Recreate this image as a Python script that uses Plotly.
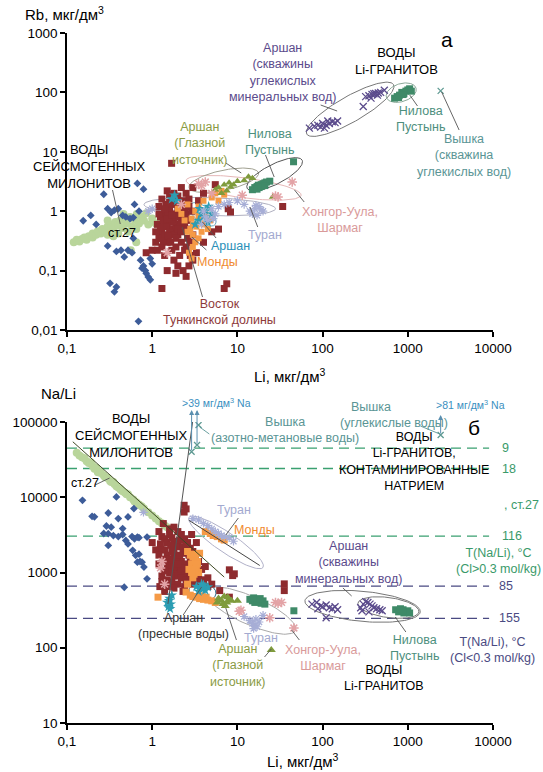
import numpy as np
import plotly.graph_objects as go

# ---------------- DATA ----------------
tick_vals_x = [0.1, 1, 10, 100, 1000, 10000]
tick_text_x = ["0,1", "1", "10", "100", "1000", "10000"]
tick_vals_rb = [0.01, 0.1, 1, 10, 100, 1000]
tick_text_rb = ["0,01", "0,1", "1", "10", "100", "1000"]
tick_vals_nali = [10, 100, 1000, 10000, 100000]
tick_text_nali = ["10", "100", "1000", "10000", "100000"]

# Panel a: (Li, Rb)
a_milonite = [(0.155,0.69),(0.19,0.85),(0.22,0.6),(0.27,1.93),(0.3,1.1),(0.33,0.95),(0.36,1.04),(0.4,1.1),
              (0.45,0.85),(0.49,0.8),(0.55,0.75),(0.6,0.78),(0.67,2.93),(0.79,2.35),(0.62,1.3),(0.7,1.0),
              (0.3,0.26),(0.38,0.21),(0.43,0.22),(0.47,0.17),(0.52,0.22),(0.58,0.2),(0.73,0.15),(0.79,0.12),
              (0.83,0.1),(0.9,0.078),(0.85,0.09),(0.95,0.07),(0.76,0.11),(0.32,0.061),(0.38,0.053),
              (0.36,0.044),(0.69,0.014),(1.0,0.13),(0.95,0.16),(0.6,0.35)]
a_st27 = [(0.12,0.3),(0.13,0.33),(0.14,0.31),(0.15,0.34),(0.16,0.36),(0.17,0.33),(0.18,0.38),(0.2,0.36),
          (0.2,0.42),(0.22,0.4),(0.23,0.46),(0.25,0.42),(0.26,0.5),(0.28,0.46),(0.3,0.55),(0.3,0.4),
          (0.33,0.6),(0.35,0.5),(0.37,0.66),(0.4,0.58),(0.42,0.7),(0.45,0.52),(0.48,0.75),(0.5,0.62),
          (0.55,0.8),(0.58,0.55),(0.62,0.72),(0.66,0.9),(0.7,0.62),(0.75,0.8),(0.8,0.7),(0.85,0.92),
          (0.9,0.6),(1.0,0.75),(1.1,0.62),(1.25,0.7),(0.4,0.42),(0.52,0.45),(0.35,0.38),(0.65,0.5),
          (0.3,0.7),(0.46,0.9),(0.56,0.22),(0.65,0.3),(1.3,0.55)]
a_east = [(1.69,6.4),(1.3,1.6),(1.5,2.2),(1.6,1.9),(1.8,2.0),(2.0,1.8),(2.2,2.5),(2.5,2.0),(2.7,1.6),(3.0,2.5),
          (1.2,1.2),(1.4,0.9),(1.6,1.1),(1.8,0.9),(2.0,0.8),(2.2,0.7),(2.4,1.0),(1.5,0.6),(1.7,0.5),(1.9,0.55),
          (2.1,0.6),(2.4,0.5),(1.3,0.45),(1.2,0.35),(1.1,0.3),(1.3,0.25),(1.5,0.3),(1.7,0.22),(1.9,0.25),
          (2.2,0.3),(2.5,0.25),(1.8,0.15),(2.0,0.12),(2.3,0.1),(1.5,0.1),(1.3,0.05),(2.5,0.08),(2.8,0.18),
          (3.0,0.15),(4.0,0.3),(7.5,0.06),(7.0,0.05),(5.0,0.45),(1.0,0.22),(0.85,0.2),(3.5,1.5),(4.0,2.0),
          (1.6,0.75),(2.0,0.4),(2.6,0.35),(1.4,0.18),(2.1,0.18),(1.15,0.6),(1.9,1.3),(5.5,2.8),(6.0,0.5),
          (7.8,1.1),(8.3,0.97),(34,1.2),(1.25,0.8),(1.75,1.4),(2.3,1.5),(1.45,1.3),(2.6,0.7),(2.0,1.0),
          (1.35,0.7),(1.6,0.95),(1.8,0.7),(2.1,0.9),(2.3,0.8),(1.7,0.65),(1.9,0.8),(2.2,1.1),(1.55,0.85),
          (1.45,0.55),(2.4,0.6),(1.3,0.35),(1.4,0.4),(1.6,0.45),(1.8,0.4),(2.0,0.5),(2.2,0.45),(1.25,0.55),
          (1.5,0.75),(1.7,0.85),(2.5,0.9),(2.7,1.2),(2.9,1.0),(1.2,0.9),(1.4,1.1),(1.6,1.4),(2.1,1.4),
          (2.4,1.3),(1.1,0.45),(1.35,0.32),(1.55,0.38),(1.15,0.22),(1.65,0.3),(2.6,0.5),(3.0,0.4),(2.8,0.3),
          (1.9,0.35),(2.4,0.22),(2.7,0.12),(1.9,0.09),(3.3,0.2)]
a_mondy = [(2.8,0.5),(3.0,0.4),(3.2,0.3),(3.5,0.35),(3.0,0.6),(3.5,0.8),(4.0,0.6),(4.5,0.5),(3.0,0.25),
           (2.7,0.2),(2.9,0.16),(3.5,1.2),(4.0,1.5),(5.0,1.7),(5.5,2.0),(6.0,1.5),(2.6,1.3),(3.2,1.0),
           (4.2,0.9),(3.8,0.45),(2.2,0.9),(2.0,1.1),(2.4,0.7),(6.5,2.2),(7.0,1.9),(3.3,0.55),(3.6,0.65),
           (2.6,0.45),(2.9,0.75),(4.8,0.7)]
a_arshan = [(1.83,1.86),(1.7,1.6),(1.95,1.5),(3.5,0.7),(4.0,0.8),(4.5,0.65),(3.8,0.9),(4.2,1.0),(5.0,0.9),
            (3.2,0.6),(3.6,1.1),(4.6,1.2)]
a_turan = [(0.9,1.0),(1.0,1.1),(4.0,1.0),(5.0,1.1),(5.5,0.9),(6.0,1.2),(7.0,1.3),(8.0,1.4),(10,1.5),(12,1.3),
           (14,1.0),(16,1.1),(18,1.2),(20,1.0),(15,0.9),(17,0.85),(19,1.05),(4.5,0.7),(3.8,0.6),(4.2,0.8),
           (5.2,0.75),(16.5,1.25)]
a_glaznoy = [(6.0,2.5),(7.0,2.8),(8.0,3.0),(8.3,2.56),(9.0,2.8),(10,3.2),(12,3.3),(13.5,3.8),(15,3.6),
             (7.5,2.2),(6.5,2.0),(26,1.74),(5.5,2.3)]
a_nilova = [(15,2.3),(16,2.5),(17,2.6),(17.6,2.74),(18,2.5),(19,2.8),(20,2.9),(21,3.0),(22,3.1),(24,3.2),
            (17,2.35),(19,2.6),(21,2.7),(45.6,6.8),(700,80),(750,85),(800,90),(850,100),(900,95),(950,105),
            (1000,110),(1050,115),(780,82),(880,92),(1100,105)]
a_hongor = [(3.5,2.9),(3.8,2.7),(4.2,3.1),(11.4,1.86),(28,1.8),(30,1.74),(44,3.1),(5.0,2.0),(1.5,0.2),(2.2,1.3)]
a_wells = [(70,25),(80,27),(88,28),(95,26),(100,30),(110,28),(120,30),(130,32),(140,31),(150,33),(105,25),
           (115,33),(300,58),(320,85),(350,88),(380,92),(400,95),(420,96),(450,98),(480,100),(530,109),
           (370,80),(440,90)]
a_vyshka = [(2430,106)]

# Panel b: (Li, Na/Li)
b_milonite = [(0.152,9100),(0.197,5580),(0.21,5500),(0.305,6180),(0.38,10100),(0.29,4150),(0.33,4000),
              (0.40,5200),(0.45,3830),(0.52,5470),(0.305,3280),(0.35,3100),(0.40,3000),(0.305,2290),
              (0.49,2670),(0.52,2400),(0.61,7070),(0.59,1970),(0.64,1690),(0.70,1750),(0.76,1370),
              (0.80,1180),(0.67,2960),(0.87,2960),(0.87,824),(0.47,637),(0.67,1370),(0.72,1400),
              (0.62,2800),(0.7,2900),(0.58,3000),(0.27,3300),(0.45,3200)]
b_st27 = [(0.13,39000),(0.14,36000),(0.15,34000),(0.16,33000),(0.17,30000),(0.18,28500),(0.2,26000),
          (0.21,24000),(0.22,24500),(0.24,22000),(0.25,21000),(0.27,19500),(0.28,18500),(0.3,18000),
          (0.32,16500),(0.33,16000),(0.36,15000),(0.38,14000),(0.4,13500),(0.43,12500),(0.45,12000),
          (0.48,11500),(0.5,11000),(0.55,10000),(0.6,9300),(0.65,8600),(0.7,8000),(0.75,7600),(0.8,7100),
          (0.9,6300),(1.0,5700),(1.1,5200),(1.2,4800),(1.3,4500),(1.4,4200),(1.5,4000),(0.19,29000),
          (0.23,21500),(0.35,16000),(0.42,13000),(0.52,11000),(0.62,8800)]
b_east = [(2.37,7820),(2.37,6360),(2.5,7000),(1.35,4470),(1.2,3500),(1.3,3000),(1.4,2800),(1.5,2500),
          (1.6,3200),(1.7,2900),(1.8,2600),(2.0,2400),(2.2,2200),(2.4,2800),(2.6,2500),(2.8,2100),(3.0,1900),
          (1.4,2000),(1.5,1700),(1.6,1500),(1.8,1800),(2.0,1600),(2.2,1400),(2.5,1300),(2.8,1500),(3.2,1600),
          (3.5,1400),(1.5,1200),(1.7,1100),(1.9,1000),(2.1,1200),(2.3,1050),(2.6,900),(3.0,1000),(3.5,900),
          (4.0,800),(4.5,850),(1.3,900),(1.5,800),(1.7,750),(2.0,700),(2.4,650),(3.0,700),(1.2,1300),
          (1.1,2000),(1.0,2500),(3.8,1100),(4.2,1200),(5.0,700),(6.2,575),(8.05,470),(1.23,650),(8.05,1085),
          (9.2,960),(8.8,910),(35.5,706),(35.5,575),(1.4,560),(1.9,2200),(2.3,1800),(2.7,1700),(1.25,2400),
          (1.65,2300),(3.3,2500),(2.9,3200),(1.6,3800),(2.0,3500),(1.8,4000),(2.2,3200),(1.3,2000),
          (1.4,1500),(1.5,1400),(1.6,1250),(1.7,1400),(1.8,1200),(1.9,1500),(2.0,1300),(2.1,1700),(2.2,1000),
          (2.4,1150),(2.6,1100),(2.8,1200),(1.6,1000),(1.8,900),(2.0,900),(2.2,850),(2.5,800),(2.8,820),
          (3.2,800),(3.6,750),(4.0,700),(4.5,650),(1.4,1050),(1.2,1700),(1.7,1900),(2.1,2700),(2.5,2300),
          (3.0,1400),(1.3,760),(1.5,650),(1.8,620),(2.3,560)]
b_mondy = [(4.2,3500),(4.8,3300),(5.2,3100),(5.8,3000),(6.5,2800),(7.0,2700),(2.6,1900),(2.8,1700),
           (3.0,1600),(3.2,1500),(3.4,1400),(2.9,1300),(3.3,1200),(3.6,1800),(2.7,1100),(3.1,950),(3.5,1000),
           (2.5,550),(2.8,500),(3.0,480),(3.3,470),(3.6,450),(4.0,440),(4.5,430),(5.0,420),(5.5,400),
           (3.8,490),(4.3,470),(1.17,470),(2.6,700),(3.0,850),(3.2,1100),(2.9,1000),(3.4,1300),(3.1,1750)]
b_arshan = [(1.5,400),(1.55,350),(1.6,450),(1.65,380),(1.7,500),(1.58,420),(1.62,330),(3.3,650),(3.6,620),
            (3.9,600),(4.2,580),(4.5,640),(3.5,560),(4.0,680),(3.8,700)]
b_turan = [(0.79,6300),(3.5,5000),(4.0,4500),(4.5,4200),(5.0,3800),(5.5,3500),(6.0,3300),(6.5,3100),
           (7.0,3000),(8.0,2900),(9.0,2600),(3.0,5200),(14,230),(15,210),(16,200),(17,190),(18,220),
           (15.5,180),(16.5,240),(20,270),(12,260)]
b_glaznoy = [(6.0,450),(6.5,420),(7.0,480),(7.5,400),(8.0,430),(6.8,380),(7.2,360),(8.5,420),(5.8,400),
             (25,93),(7.7,470),(10,420)]
b_nilova = [(14,440),(15,420),(16,400),(17,430),(18,410),(19,390),(20,420),(21,380),(15.5,460),(18.5,450),
            (46,310),(720,320),(780,300),(850,310),(900,290),(950,300),(1000,310),(1050,290),(820,330),(880,320)]
b_hongor = [(28,400),(30,390),(24,250),(46,183),(11,315),(10.5,305),(1.25,1150),(1.4,700),(33,400),(1.3,1400)]
b_wells = [(75,380),(85,400),(95,360),(100,350),(110,370),(120,340),(130,330),(140,350),(150,320),(110,250),
           (88,330),(280,340),(300,380),(320,410),(340,400),(360,380),(380,360),(400,340),(430,330),
           (470,320),(500,310),(350,300),(290,310)]
b_vyshka = [(2430,67100),(2.9,40300),(3.36,49500),(3.5,91000)]

# Na/Li geothermometer levels (Na/Li) and their temperature labels
geo_hi_cl_levels = [45000, 24100, 3050]
geo_hi_cl_labels = ["9", "18", "116"]
geo_lo_cl_levels = [658, 246]
geo_lo_cl_labels = ["85", "155"]

# trend lines in panel b: (Li, Na/Li) end points
b_line_st27 = [(0.117, 54600), (7.0, 870)]
b_line_turan = [(2.7, 4940), (18.3, 1240)]
b_line_steep = [(1.53, 382), (2.98, 100000)]

# ---------------- STYLE ----------------
FONT = "Liberation Sans, Arial, sans-serif"
C = dict(milonite="#3d5c99", st27="#b9d59b", east="#8e2b2e", mondy="#f59a46", arshan="#2c9db3",
         turan="#a7aed6", glaznoy="#7f9b3d", nilova="#3f8a68", hongor="#e3a3a6", wells="#5b4b8c",
         vyshka="#5f9a93")
W, H = 543, 772
L, R, T, B = 53, 50, 33, 49
PW, PH = W - L - R, H - T - B


def pp(x, y):
    return (x - L) / PW, (H - B - y) / PH


fig = go.Figure()


def scat(pts, xa, ya, color, symbol, size=6, open_sym=False, lw=1.2):
    xs = [p[0] for p in pts]
    ys = [p[1] for p in pts]
    m = dict(color=color, symbol=symbol, size=size)
    if open_sym:
        m["line"] = dict(color=color, width=lw)
    else:
        m["line"] = dict(width=0)
    fig.add_trace(go.Scatter(x=xs, y=ys, mode="markers", marker=m, xaxis=xa, yaxis=ya,
                             showlegend=False, hoverinfo="skip"))


def ellipse(p1, p2, half_w, xa, ya, sy, color, width=1.0):
    sx = 88.0
    ax, ay = np.log10(p1[0]) * sx, np.log10(p1[1]) * sy
    bx, by = np.log10(p2[0]) * sx, np.log10(p2[1]) * sy
    cx, cy = (ax + bx) / 2, (ay + by) / 2
    a = np.hypot(bx - ax, by - ay) / 2
    ang = np.arctan2(by - ay, bx - ax)
    t = np.linspace(0, 2 * np.pi, 120)
    px = cx + a * np.cos(t) * np.cos(ang) - half_w * np.sin(t) * np.sin(ang)
    py = cy + a * np.cos(t) * np.sin(ang) + half_w * np.sin(t) * np.cos(ang)
    fig.add_trace(go.Scatter(x=10 ** (px / sx), y=10 ** (py / sy), mode="lines",
                             line=dict(color=color, width=width), xaxis=xa, yaxis=ya,
                             showlegend=False, hoverinfo="skip"))


# ---------------- PANEL a ----------------
SY_A, SY_B = 59.4, 75.0
ellipse((0.8, 1.3), (28, 1.1), 9, "x", "y", SY_A, "#b0b0c0")
ellipse((2.5, 3.3), (56, 1.86), 10, "x", "y", SY_A, "#e6b8b8")
ellipse((2.7, 2.5), (17.7, 4.4), 10, "x", "y", SY_A, "#a0a090")
ellipse((13, 2.44), (57.6, 7.2), 10, "x", "y", SY_A, "#555555")
ellipse((2.8, 1.3), (5.5, 0.6), 8, "x", "y", SY_A, "#6aaac0")
ellipse((65, 20), (680, 135), 13, "x", "y", SY_A, "#777777")
ellipse((560, 83), (1250, 118), 9, "x", "y", SY_A, "#8aa898")

scat(a_st27, "x", "y", C["st27"], "circle", 8)
scat(a_milonite, "x", "y", C["milonite"], "diamond", 6)
scat(a_east, "x", "y", C["east"], "square", 7)
scat(a_mondy, "x", "y", C["mondy"], "square", 6)
scat(a_arshan, "x", "y", C["arshan"], "star", 8)
scat(a_turan, "x", "y", C["turan"], "asterisk-open", 7, True)
scat(a_glaznoy, "x", "y", C["glaznoy"], "triangle-up", 7)
scat(a_nilova, "x", "y", C["nilova"], "square", 7)
scat(a_hongor, "x", "y", C["hongor"], "asterisk-open", 8, True, 1.5)
scat(a_wells, "x", "y", C["wells"], "x-thin-open", 7, True, 1.3)
scat(a_vyshka, "x", "y", C["vyshka"], "x-thin-open", 6, True, 1.3)

# ---------------- PANEL b ----------------
for lv in geo_hi_cl_levels:
    fig.add_trace(go.Scatter(x=[0.1, 9000], y=[lv, lv], mode="lines", xaxis="x2", yaxis="y2",
                             line=dict(color="#3aa070", width=1.3, dash="10px,6px"),
                             showlegend=False, hoverinfo="skip"))
for lv in geo_lo_cl_levels:
    fig.add_trace(go.Scatter(x=[0.1, 9000], y=[lv, lv], mode="lines", xaxis="x2", yaxis="y2",
                             line=dict(color="#4a4a82", width=1.3, dash="10px,6px"),
                             showlegend=False, hoverinfo="skip"))

ellipse((2.7, 5400), (20, 1170), 10, "x2", "y2", SY_B, "#b0b0c8")
ellipse((2.7, 580), (5.6, 520), 9, "x2", "y2", SY_B, "#2a6a8a")
ellipse((4.2, 575), (48, 170), 14, "x2", "y2", SY_B, "#a8a8a8")
ellipse((62, 420), (1400, 300), 15, "x2", "y2", SY_B, "#777777")
ellipse((260, 390), (1350, 300), 10, "x2", "y2", SY_B, "#777777")

scat(b_st27, "x2", "y2", C["st27"], "circle", 8)
scat(b_milonite, "x2", "y2", C["milonite"], "diamond", 6)
scat(b_east, "x2", "y2", C["east"], "square", 7)
scat(b_mondy, "x2", "y2", C["mondy"], "square", 7)
scat(b_arshan, "x2", "y2", C["arshan"], "star", 8)
scat(b_turan, "x2", "y2", C["turan"], "asterisk-open", 7, True)
scat(b_glaznoy, "x2", "y2", C["glaznoy"], "triangle-up", 8)
scat(b_nilova, "x2", "y2", C["nilova"], "square", 7)
scat(b_hongor, "x2", "y2", C["hongor"], "asterisk-open", 8, True, 1.5)
scat(b_wells, "x2", "y2", C["wells"], "x-thin-open", 7, True, 1.3)
scat(b_vyshka, "x2", "y2", C["vyshka"], "x-thin-open", 6, True, 1.3)

for ln, col in [(b_line_st27, "#3f4a25"), (b_line_turan, "#444444"), (b_line_steep, "#555555")]:
    fig.add_trace(go.Scatter(x=[p[0] for p in ln], y=[p[1] for p in ln], mode="lines",
                             line=dict(color=col, width=1), xaxis="x2", yaxis="y2",
                             showlegend=False, hoverinfo="skip"))

# ---------------- AXES ----------------
ax_common = dict(type="log", showline=True, linecolor="black", linewidth=1.5, ticks="outside",
                 ticklen=5, tickwidth=1.5, tickcolor="black", showgrid=False, zeroline=False,
                 tickfont=dict(size=13.5, color="black", family=FONT))
ya_top = (H - B - 330) / PH
yb_top = (H - B - 422) / PH
fig.update_layout(
    width=W, height=H, margin=dict(l=L, r=R, t=T, b=B), paper_bgcolor="white", plot_bgcolor="white",
    font=dict(family=FONT, size=13, color="black"),
    xaxis=dict(ax_common, range=[-1, 4], domain=[0, 1], anchor="y",
               tickvals=tick_vals_x, ticktext=tick_text_x),
    yaxis=dict(ax_common, range=[-2, 3], domain=[ya_top, 1], anchor="x",
               tickvals=tick_vals_rb, ticktext=tick_text_rb),
    xaxis2=dict(ax_common, range=[-1, 4], domain=[0, 1], anchor="y2",
                tickvals=tick_vals_x, ticktext=tick_text_x),
    yaxis2=dict(ax_common, range=[1, 5], domain=[0, yb_top], anchor="x2",
                tickvals=tick_vals_nali, ticktext=tick_text_nali),
)

# ---------------- TEXT ----------------
ann = []


def txt(x, y, text, color="black", size=12.5, xanchor="center", align="center"):
    px_, py_ = pp(x, y)
    ann.append(dict(x=px_, y=py_, xref="paper", yref="paper", text=text, showarrow=False,
                    xanchor=xanchor, yanchor="middle", align=align,
                    font=dict(size=size, color=color, family=FONT)))


def lead(x0, y0, x1, y1, color="#555555", width=0.9):
    a0, b0 = pp(x0, y0)
    a1, b1 = pp(x1, y1)
    fig.add_shape(type="line", xref="paper", yref="paper", x0=a0, y0=b0, x1=a1, y1=b1,
                  line=dict(color=color, width=width))


# panel a labels
txt(8, 13, "Rb, мкг/дм<sup>3</sup>", size=15, xanchor="left")
txt(446, 40, "а", size=21)
txt(393, 61, "ВОДЫ<br>Li-ГРАНИТОВ", size=13)
txt(276, 72, "Аршан<br>(скважины<br>углекислых<br>минеральных вод)", C["wells"])
txt(418, 119, "Нилова<br>Пустынь", "#4d8f7d")
txt(463, 155, "Вышка<br>(скважина<br>углекислых вод)", "#5a9595")
txt(190, 143, "Аршан<br>(Глазной<br>источник)", "#8a9b45")
txt(262, 142, "Нилова<br>Пустынь", "#4d8f7d")
txt(76, 167, "ВОДЫ<br>СЕЙСМОГЕННЫХ<br>МИЛОНИТОВ", size=13)
txt(110, 233, "ст.27", size=12.5)
txt(335, 220, "Хонгор-Уула,<br>Шармаг", "#d99a9a")
txt(258, 235, "Туран", "#a3aad0")
txt(222, 246, "Аршан", "#2a90b8")
txt(208, 262, "Монды", "#f08a30")
txt(210, 312, "Восток<br>Тункинской долины", "#8e3a3a")
txt(283, 375, "Li, мкг/дм<sup>3</sup>", size=15)

lead(315, 105, 332, 111)
lead(407, 95, 415, 106)
lead(440, 92, 458, 130)
lead(217, 163, 233, 173)
lead(258, 155, 267, 177)
lead(288, 190, 298, 202)
lead(242, 207, 250, 227)
lead(193, 222, 207, 238)
lead(182, 237, 197, 250)
lead(172, 227, 193, 297)
lead(100, 190, 108, 224)

# panel b labels
txt(44, 393, "Na/Li", size=15)
txt(120, 435, "ВОДЫ<br>СЕЙСМОГЕННЫХ<br>МИЛОНИТОВ", size=13)
txt(72, 483, "ст.27", size=12.5)
txt(207, 402, "&gt;39 мг/дм<sup>3</sup> Na", "#3a8fc0", size=10.5)
txt(278, 430, "Вышка<br>(азотно-метановые воды)", "#5a9595")
txt(367, 407, "Вышка", "#5a9595")
txt(391, 423, "(углекислые воды)", "#5a9595")
txt(470, 404, "&gt;81 мг/дм<sup>3</sup> Na", "#3a8fc0", size=10.5)
txt(473, 427, "б", size=21)
txt(411, 461, "ВОДЫ<br>Li-ГРАНИТОВ,<br>КОНТАМИНИРОВАННЫЕ<br>НАТРИЕМ", size=12.5)
for lab, yy in zip(geo_hi_cl_labels, [448, 469, 536]):
    txt(500, yy, lab, "#3a9a6a", size=12.5, xanchor="left")
txt(502, 505, ", ст.27", "#3a9a6a", size=12.5, xanchor="left")
txt(499, 561, "T(Na/Li), °C<br>(Cl&gt;0.3 mol/kg)", "#3a9a6a", size=12.5)
txt(226, 510, "Туран", "#a3aad0")
txt(247, 530, "Монды", "#f08a30")
txt(344, 562, "Аршан<br>(скважины<br>минеральных вод)", C["wells"])
for lab, yy in zip(geo_lo_cl_labels, [586, 618]):
    txt(497, yy, lab, "#4a4a82", size=12.5, xanchor="left")
txt(173, 626, "Аршан<br>(пресные воды)", "#333333")
txt(253, 638, "Туран", "#a3aad0")
txt(230, 665, "Аршан<br>(Глазной<br>источник)", "#8a9b45")
txt(317, 658, "Хонгор-Уула,<br>Шармаг", "#d99a9a")
txt(412, 648, "Нилова<br>Пустынь", "#4d8f7d")
txt(492, 650, "T(Na/Li), °C<br>(Cl&lt;0.3 mol/kg)", "#4a4a82", size=12.5)
txt(380, 678, "ВОДЫ<br>Li-ГРАНИТОВ", size=12.5)
txt(297, 760, "Li, мкг/дм<sup>3</sup>", size=15)

lead(82, 485, 97, 478)
lead(200, 434, 190, 427, "#5a9595")
lead(418, 426, 438, 434, "#5a9595")
lead(230, 518, 217, 535)
lead(338, 588, 347, 596)
lead(392, 617, 403, 632)
lead(285, 630, 293, 640)
lead(217, 608, 228, 640)
lead(173, 615, 192, 587)
lead(257, 657, 264, 649)

# arrows for Na-rich samples
for (xv, yv), yh in [((2.9, 40300), 410), ((3.36, 49500), 410), ((2430, 67100), 415)]:
    ann.append(dict(x=np.log10(xv), y=3 + (572 - yh) / 75.0, xref="x2", yref="y2",
                    ax=np.log10(xv), ay=np.log10(yv), axref="x2", ayref="y2", text="",
                    showarrow=True, arrowhead=2, arrowsize=1, arrowwidth=1, arrowcolor="#5a8fb0"))

fig.update_layout(annotations=ann)
fig.write_html("out.html")
